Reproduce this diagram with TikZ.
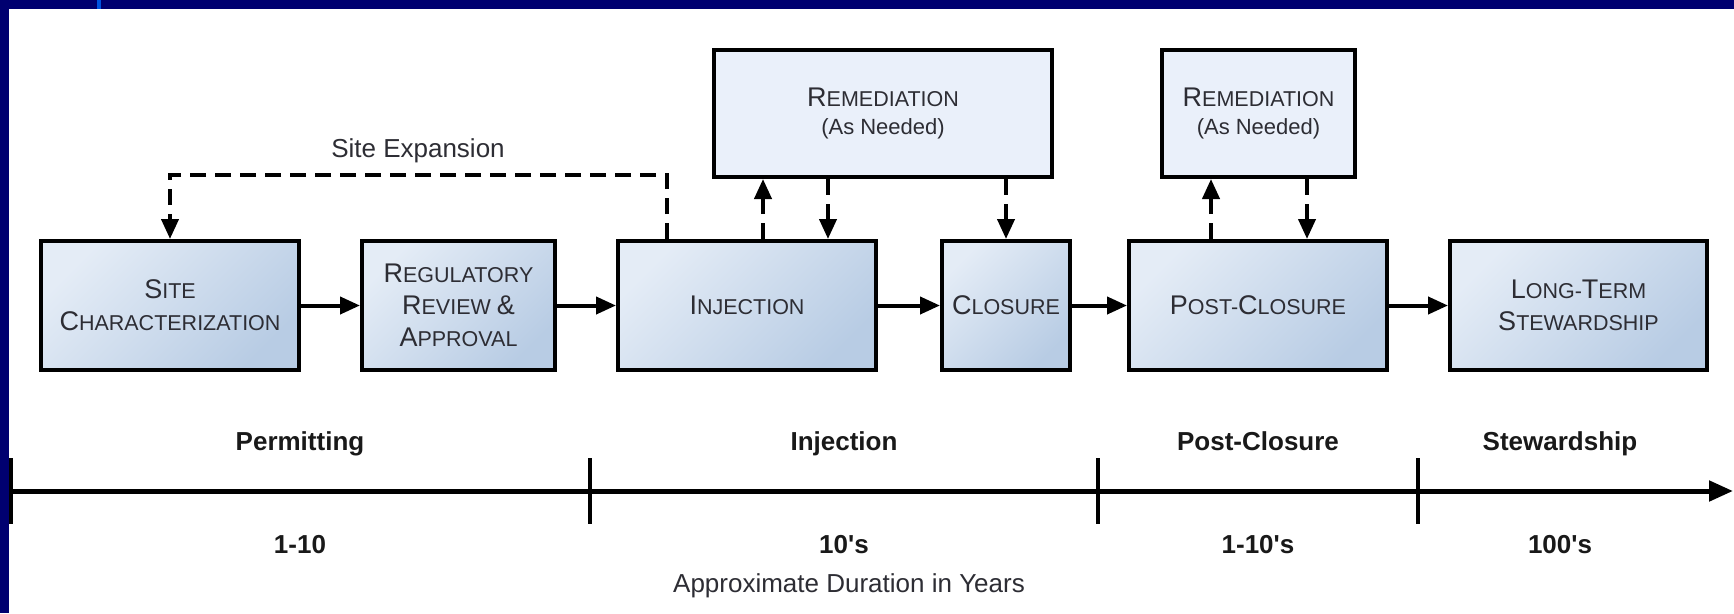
\documentclass[tikz,border=0pt]{standalone}
\usepackage{fontspec}
\setmainfont{Liberation Sans}
\usetikzlibrary{arrows.meta}

\definecolor{framenavy}{RGB}{0,0,112}
\definecolor{frameaccent}{RGB}{0,84,224}
\definecolor{boxlight}{RGB}{228,236,246}
\definecolor{boxdark}{RGB}{184,204,228}
\definecolor{remfill}{RGB}{234,240,250}
\definecolor{boxtext}{RGB}{45,45,52}

% large initial letter for the small-caps box titles
\newcommand\capL[1]{{\fontsize{27}{32}\selectfont #1}}
\newcommand\boxfont{\fontsize{21.5}{32}\selectfont}

\begin{document}
\begin{tikzpicture}[x=1pt,y=-1pt,
  stagebox/.style={draw=black, line width=4pt, inner sep=0pt, align=center,
    font=\boxfont, text=boxtext, top color=boxlight, bottom color=boxdark,
    shading angle=45, minimum height=129pt},
  rembox/.style={draw=black, line width=4pt, inner sep=0pt, align=center,
    font=\boxfont, text=boxtext, fill=remfill, minimum height=127pt},
  flow/.style={line width=4pt, -{Triangle[length=20pt,width=17pt]}},
  maybe/.style={flow, dash pattern=on 16pt off 9pt},
  phase/.style={font=\fontsize{26}{30}\selectfont\bfseries, text=black!90, anchor=base},
  tickmark/.style={line width=4pt},
  axisline/.style={line width=5pt, -{Triangle[length=24pt,width=20pt]}}
]
\useasboundingbox (0,0) rectangle (1734,613);
\fill[white] (0,0) rectangle (1734,613);

% slide frame
\fill[framenavy] (0,0) rectangle (1734,9);
\fill[framenavy] (0,0) rectangle (9,613);
\fill[frameaccent] (97,0) rectangle (101,9);

% process stages
\node[stagebox, minimum width=258pt] (site) at (170,305.5)
  {\capL{S}ITE\\\capL{C}HARACTERIZATION};
\node[stagebox, minimum width=193pt] (reg) at (458.5,305.5)
  {\capL{R}EGULATORY\\\capL{R}EVIEW \capL{\&}\\\capL{A}PPROVAL};
\node[stagebox, minimum width=258pt] (inj) at (747,305.5)
  {\capL{I}NJECTION};
\node[stagebox, minimum width=128pt] (clo) at (1006,305.5)
  {\capL{C}LOSURE};
\node[stagebox, minimum width=258pt] (post) at (1258,305.5)
  {\capL{P}OST-\capL{C}LOSURE};
\node[stagebox, minimum width=257pt] (lts) at (1578.5,305.5)
  {\capL{L}ONG-\capL{T}ERM\\\capL{S}TEWARDSHIP};

% remediation boxes
\node[rembox, minimum width=338pt] (remA) at (883,113.5)
  {\capL{R}EMEDIATION\\[-4pt]{\fontsize{22}{28}\selectfont(As Needed)}};
\node[rembox, minimum width=193pt] (remB) at (1258.5,113.5)
  {\capL{R}EMEDIATION\\[-4pt]{\fontsize{22}{28}\selectfont(As Needed)}};

% main flow
\draw[flow] (site) -- (reg);
\draw[flow] (reg) -- (inj);
\draw[flow] (inj) -- (clo);
\draw[flow] (clo) -- (post);
\draw[flow] (post) -- (lts);

% optional remediation loops
\draw[maybe] ([xshift=16pt]inj.north) -- ([xshift=16pt]inj.north |- remA.south);
\draw[maybe] ([xshift=81pt]inj.north |- remA.south) -- ([xshift=81pt]inj.north);
\draw[maybe] (clo.north |- remA.south) -- (clo.north);
\draw[maybe] ([xshift=-47pt]post.north) -- ([xshift=-47pt]post.north |- remB.south);
\draw[maybe] ([xshift=49pt]post.north |- remB.south) -- ([xshift=49pt]post.north);

% site expansion loop
\draw[maybe] ([xshift=-80pt]inj.north) -- ++(0,-64) -| (site.north);
\node[font=\fontsize{26}{30}\selectfont, text=boxtext] (expLabel) at (418,151) {Site Expansion};

% time axis
\coordinate (axisStart) at (11,491);
\coordinate (axisEnd) at (1733,491);
\draw[axisline] (axisStart) -- (axisEnd);
\foreach \tx/\tn in {11/t0, 590/t1, 1098/t2, 1418/t3} {
  \coordinate (\tn top) at (\tx,458);
  \coordinate (\tn bot) at (\tx,524);
  \draw[tickmark] (\tn top) -- (\tn bot);
}

% phase names and durations
\node[phase] (phPerm) at (300,450) {Permitting};
\node[phase] (phInj) at (844,450) {Injection};
\node[phase] (phPost) at (1258,450) {Post-Closure};
\node[phase] (phStew) at (1560,450) {Stewardship};
\node[phase] (durPerm) at (300,553) {1-10};
\node[phase] (durInj) at (844,553) {10\textquotesingle s};
\node[phase] (durPost) at (1258,553) {1-10\textquotesingle s};
\node[phase] (durStew) at (1560,553) {100\textquotesingle s};
\node[font=\fontsize{26}{30}\selectfont, text=boxtext] (axisTitle) at (849,586)
  {Approximate Duration in Years};
\end{tikzpicture}
\end{document}
